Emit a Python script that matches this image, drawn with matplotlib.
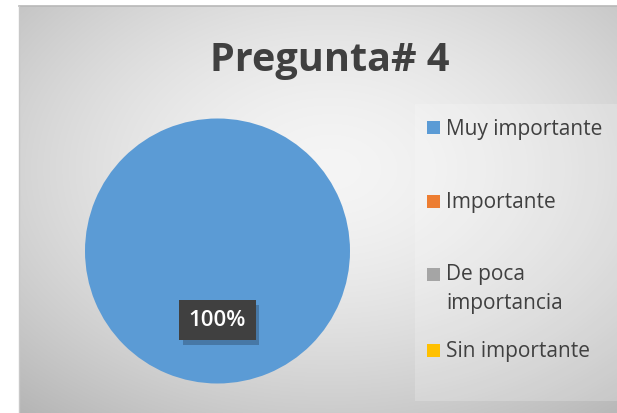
import numpy as np
import matplotlib
matplotlib.use("Agg")
import matplotlib.pyplot as plt
from matplotlib.patches import Rectangle
import matplotlib.patheffects as pe

# Survey answers for question 4
categories = ["Muy importante", "Importante", "De poca\nimportancia", "Sin importante"]
values = [100, 0, 0, 0]
colors = ["#5B9BD5", "#ED7D31", "#A5A5A5", "#FFC000"]
title = "Pregunta# 4"

W, H = 617, 414
fig = plt.figure(figsize=(W / 100, H / 100), dpi=100)
fig.patch.set_facecolor("white")

FONT = ["Open Sans", "DejaVu Sans"]
TXT = "#404040"

# Chart area with a soft radial gradient fill
x0, ytop = 19, 7
bg = fig.add_axes([x0 / W, 0, 1 - x0 / W, (H - ytop) / H])
bw, bh = W - x0, H - ytop
yy, xx = np.mgrid[0:bh, 0:bw]
cx, cy = bw * 0.52, bh * 0.40
d = np.sqrt(((xx - cx) / (bw * 0.62)) ** 2 + ((yy - cy) / (bh * 0.62)) ** 2)
shade = 0.96 - 0.17 * np.clip(d, 0, 1.3) ** 1.6
img = np.dstack([shade, shade, shade])
bg.imshow(img, extent=[0, bw, bh, 0], aspect="auto", interpolation="bilinear")
bg.set_xlim(0, bw)
bg.set_ylim(bh, 0)
bg.axis("off")
# thin border on top and left
fig.add_artist(plt.Line2D([x0 / W, 1], [(H - ytop) / H] * 2, color="#b8b8b8", lw=1.2))
fig.add_artist(plt.Line2D([x0 / W] * 2, [0, (H - ytop) / H], color="#c8c8c8", lw=1.0))

# Title
fig.text(330 / W, 1 - 60 / H, title, ha="center", va="center", fontsize=28.5,
         fontweight="bold", color=TXT, family=FONT)

# Legend panel
fig.add_artist(Rectangle((415 / W, 1 - 402 / H), (W - 415) / W, (402 - 105) / H,
                         transform=fig.transFigure, facecolor="white", alpha=0.2,
                         edgecolor="none"))
legend_y = [129, 203, 289, 352]
square_y = [128, 202, 275, 351]
for lab, col, ty, sy in zip(categories, colors, legend_y, square_y):
    fig.add_artist(Rectangle((427 / W, 1 - (sy + 6.5) / H), 13 / W, 13 / H,
                             transform=fig.transFigure, facecolor=col, edgecolor="none"))
    fig.text(446 / W, 1 - ty / H, lab, ha="left", va="center", fontsize=15,
             color=TXT, family=FONT, linespacing=1.45)

# Pie
r = 132.5
pcx, pcy = 217.5, 252
ax = fig.add_axes([(pcx - r) / W, 1 - (pcy + r) / H, 2 * r / W, 2 * r / H])


def pct(p):
    return f"{p:.0f}%" if p > 0 else ""


wedges, texts, autotexts = ax.pie(values, colors=colors, startangle=90, counterclock=False,
                                  autopct=pct, pctdistance=0.52, radius=1,
                                  wedgeprops=dict(linewidth=0))
for t in autotexts:
    t.set_color("white")
    t.set_fontsize(16)
    t.set_fontweight("semibold")
    t.set_family(FONT)
    t.set_bbox(dict(boxstyle="square,pad=0.42", facecolor="#404040", edgecolor="none"))
    t.get_bbox_patch().set_path_effects([
        pe.SimplePatchShadow(offset=(2.5, -3.5), shadow_rgbFace="black", alpha=0.22),
        pe.Normal(),
    ])
ax.set_xlim(-1, 1)
ax.set_ylim(-1, 1)
ax.set_aspect("equal")
ax.axis("off")

fig.savefig("out.png", dpi=100)
